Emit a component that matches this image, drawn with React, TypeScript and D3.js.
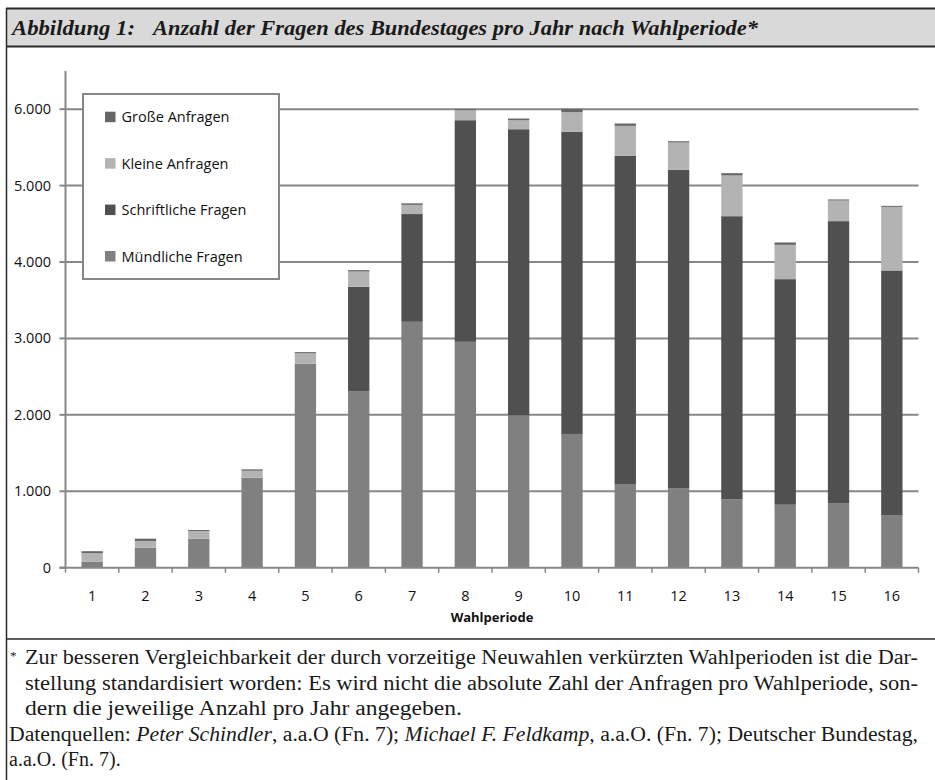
import * as d3 from "d3";
import { useEffect, useRef } from "react";

const periods = ["1", "2", "3", "4", "5", "6", "7", "8", "9", "10", "11", "12", "13", "14", "15", "16"];
const muendliche = [80, 262, 380, 1178, 2670, 2311, 3218, 2956, 1993, 1750, 1095, 1042, 894, 824, 846, 689];
const schriftliche = [0, 0, 0, 0, 0, 1365, 1410, 2900, 3745, 3953, 4294, 4164, 3706, 2952, 3689, 3201];
const kleine = [110, 88, 100, 91, 135, 200, 120, 131, 118, 258, 393, 358, 533, 449, 270, 832];
const grosse = [26, 30, 13, 18, 16, 18, 20, 15, 22, 43, 31, 17, 30, 31, 14, 13];
const yTicks = [0, 1000, 2000, 3000, 4000, 5000, 6000];

const seriesNames = ["Mündliche Fragen", "Schriftliche Fragen", "Kleine Anfragen", "Große Anfragen"];
const seriesColors = ["#808080", "#505050", "#b3b3b3", "#666666"];

const App: React.FC = () => {
  const ref = useRef<HTMLDivElement | null>(null);

  useEffect(() => {
    if (!ref.current) return;
    d3.select(ref.current).selectAll("*").remove();

    const W = 935;
    const H = 780;
    const left = 65.5;
    const right = 918.5;
    const bottom = 567.7;
    const top = 71;
    const sans = "'Open Sans', sans-serif";
    const serif = "'Liberation Serif', serif";

    const svg = d3
      .select(ref.current)
      .append("svg")
      .attr("width", W)
      .attr("height", H)
      .style("display", "block");

    svg.append("rect").attr("width", W).attr("height", H).attr("fill", "#fff");

    // frame + title band
    svg.append("rect").attr("x", 7).attr("y", 9).attr("width", W - 7).attr("height", 37.5).attr("fill", "#d9d9d9");
    svg.append("line").attr("x1", 6).attr("x2", W).attr("y1", 8.5).attr("y2", 8.5).attr("stroke", "#2a2a2a").attr("stroke-width", 2);
    svg.append("line").attr("x1", 6).attr("x2", W).attr("y1", 46.5).attr("y2", 46.5).attr("stroke", "#2a2a2a").attr("stroke-width", 2);
    svg.append("line").attr("x1", 6.5).attr("x2", 6.5).attr("y1", 8).attr("y2", H).attr("stroke", "#2a2a2a").attr("stroke-width", 1.5);
    svg.append("line").attr("x1", 6).attr("x2", W).attr("y1", 639).attr("y2", 639).attr("stroke", "#2a2a2a").attr("stroke-width", 1.5);

    const titleStyle = (t: d3.Selection<SVGTextElement, unknown, null, undefined>) =>
      t
        .attr("y", 35)
        .attr("font-family", serif)
        .attr("font-style", "italic")
        .attr("font-weight", "bold")
        .attr("font-size", 20)
        .attr("fill", "#1a1a1a")
        .attr("lengthAdjust", "spacingAndGlyphs");
    titleStyle(svg.append("text")).attr("x", 12).attr("textLength", 123).text("Abbildung 1:");
    titleStyle(svg.append("text"))
      .attr("x", 153)
      .attr("textLength", 605)
      .text("Anzahl der Fragen des Bundestages pro Jahr nach Wahlperiode*");

    const x = d3.scaleBand().domain(periods).range([left, right]).paddingInner(0.6).paddingOuter(0.3);
    const xb = d3.scaleBand().domain(periods).range([left, right]);
    const y = d3.scaleLinear().domain([0, 6500]).range([bottom, top]);

    // grid
    svg
      .append("g")
      .selectAll("line")
      .data(yTicks.filter((t) => t > 0))
      .join("line")
      .attr("x1", left)
      .attr("x2", right)
      .attr("y1", (d) => y(d))
      .attr("y2", (d) => y(d))
      .attr("stroke", "#878787")
      .attr("stroke-width", 2);

    // stacked bars
    const rows = periods.map((p, i) => ({
      p,
      m: muendliche[i],
      s: schriftliche[i],
      k: kleine[i],
      g: grosse[i],
    }));
    const stack = d3.stack<(typeof rows)[number]>().keys(["m", "s", "k", "g"]);
    const layers = stack(rows);

    svg
      .append("g")
      .selectAll("g")
      .data(layers)
      .join("g")
      .attr("fill", (_, i) => seriesColors[i])
      .selectAll("rect")
      .data((d) => d)
      .join("rect")
      .attr("x", (d) => x(d.data.p) ?? 0)
      .attr("width", x.bandwidth())
      .attr("y", (d) => y(d[1]))
      .attr("height", (d) => Math.max(0, y(d[0]) - y(d[1])));

    // axes
    svg.append("line").attr("x1", left).attr("x2", left).attr("y1", top).attr("y2", bottom + 1).attr("stroke", "#878787").attr("stroke-width", 2);
    svg.append("line").attr("x1", left - 6).attr("x2", right).attr("y1", bottom).attr("y2", bottom).attr("stroke", "#878787").attr("stroke-width", 2);

    svg
      .append("g")
      .selectAll("line")
      .data(yTicks)
      .join("line")
      .attr("x1", left - 6)
      .attr("x2", left)
      .attr("y1", (d) => y(d))
      .attr("y2", (d) => y(d))
      .attr("stroke", "#878787")
      .attr("stroke-width", 2);

    svg
      .append("g")
      .selectAll("line")
      .data([...periods.map((p) => xb(p) ?? 0), right])
      .join("line")
      .attr("x1", (d) => d)
      .attr("x2", (d) => d)
      .attr("y1", bottom)
      .attr("y2", bottom + 5)
      .attr("stroke", "#878787")
      .attr("stroke-width", 1.5);

    const fmt = d3.formatLocale({ decimal: ",", thousands: ".", grouping: [3], currency: ["", "€"] }).format(",");
    svg
      .append("g")
      .selectAll("text")
      .data(yTicks)
      .join("text")
      .attr("x", 51)
      .attr("y", (d) => y(d) + 5)
      .attr("text-anchor", "end")
      .attr("font-family", sans)
      .attr("font-size", 14.5)
      .attr("fill", "#111")
      .text((d) => fmt(d));

    svg
      .append("g")
      .selectAll("text")
      .data(periods)
      .join("text")
      .attr("x", (d) => (xb(d) ?? 0) + xb.bandwidth() / 2)
      .attr("y", 601)
      .attr("text-anchor", "middle")
      .attr("font-family", sans)
      .attr("font-size", 14.5)
      .attr("fill", "#111")
      .text((d) => d);

    svg
      .append("text")
      .attr("x", (left + right) / 2)
      .attr("y", 622)
      .attr("text-anchor", "middle")
      .attr("font-family", sans)
      .attr("font-weight", "bold")
      .attr("font-size", 13)
      .attr("fill", "#111")
      .text("Wahlperiode");

    // legend
    const lg = svg.append("g");
    lg.append("rect")
      .attr("x", 83)
      .attr("y", 94)
      .attr("width", 196)
      .attr("height", 185)
      .attr("fill", "#fff")
      .attr("stroke", "#878787")
      .attr("stroke-width", 2);
    const legendOrder = [3, 2, 1, 0];
    const ly = d3.scalePoint<number>().domain(legendOrder).range([116.7, 256]);
    legendOrder.forEach((si) => {
      lg.append("rect")
        .attr("x", 105)
        .attr("y", (ly(si) ?? 0) - 5)
        .attr("width", 10.5)
        .attr("height", 10.5)
        .attr("fill", seriesColors[si]);
      lg.append("text")
        .attr("x", 121.5)
        .attr("y", (ly(si) ?? 0) + 5.5)
        .attr("font-family", sans)
        .attr("font-size", 14.5)
        .attr("fill", "#111")
        .text(seriesNames[si]);
    });

    // footnote
    const foot = svg.append("g").attr("font-family", serif).attr("font-size", 20).attr("fill", "#1a1a1a");
    const line = (xPos: number, yPos: number, len: number) =>
      foot
        .append("text")
        .attr("x", xPos)
        .attr("y", yPos)
        .attr("textLength", len)
        .attr("lengthAdjust", "spacingAndGlyphs");
    foot.append("text").attr("x", 10).attr("y", 660).attr("font-size", 13).text("*");
    line(25, 664, 893).text("Zur besseren Vergleichbarkeit der durch vorzeitige Neuwahlen verkürzten Wahlperioden ist die Dar-");
    line(25, 689.5, 893).text("stellung standardisiert worden: Es wird nicht die absolute Zahl der Anfragen pro Wahlperiode, son-");
    line(25, 715, 437).text("dern die jeweilige Anzahl pro Jahr angegeben.");
    const l4 = line(9, 740.5, 909);
    l4.append("tspan").text("Datenquellen: ");
    l4.append("tspan").attr("font-style", "italic").text("Peter Schindler");
    l4.append("tspan").text(", a.a.O (Fn. 7); ");
    l4.append("tspan").attr("font-style", "italic").text("Michael F. Feldkamp");
    l4.append("tspan").text(", a.a.O. (Fn. 7); Deutscher Bundestag,");
    foot.append("text").attr("x", 9).attr("y", 766).text("a.a.O. (Fn. 7).");
  }, []);

  return <div ref={ref} style={{ position: "absolute", left: 0, top: 0 }} />;
};

export default App;
